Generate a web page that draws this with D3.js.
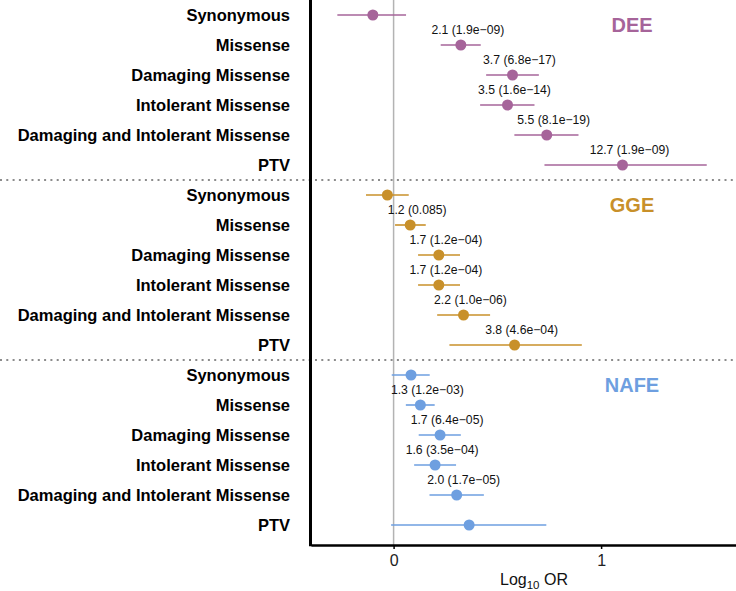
<!DOCTYPE html>
<html>
<head>
<meta charset="utf-8">
<script src="https://cdn.jsdelivr.net/npm/d3@7"></script>
<style>
  body { margin: 0; background: #fff; }
  svg { display: block; font-family: "Liberation Sans", Arial, sans-serif; }
</style>
</head>
<body>
<div id="chart"></div>
<script>
// variant classes, same for every cohort
const categories = ["Synonymous", "Missense", "Damaging Missense", "Intolerant Missense",
  "Damaging and Intolerant Missense", "PTV"];
const groups = ["DEE", "GGE", "NAFE"];
const groupColors = ["#A6649A", "#C8902A", "#6E9FE0"];

// log10 OR and confidence interval, per group
const estDEE = [-0.100, 0.324, 0.573, 0.549, 0.738, 1.103];
const lowDEE = [-0.271, 0.227, 0.446, 0.417, 0.582, 0.727];
const highDEE = [0.060, 0.420, 0.700, 0.679, 0.891, 1.509];
const labDEE = ["", "2.1 (1.9e\u221209)", "3.7 (6.8e\u221217)", "3.5 (1.6e\u221214)", "5.5 (8.1e\u221219)", "12.7 (1.9e\u221209)"];

const estGGE = [-0.030, 0.080, 0.218, 0.218, 0.337, 0.583];
const lowGGE = [-0.133, 0.007, 0.118, 0.118, 0.210, 0.269];
const highGGE = [0.073, 0.155, 0.320, 0.320, 0.465, 0.907];
const labGGE = ["", "1.2 (0.085)", "1.7 (1.2e\u221204)", "1.7 (1.2e\u221204)", "2.2 (1.0e\u221206)", "3.8 (4.6e\u221204)"];

const estNAFE = [0.084, 0.129, 0.224, 0.200, 0.304, 0.364];
const lowNAFE = [-0.009, 0.059, 0.121, 0.099, 0.173, -0.012];
const highNAFE = [0.174, 0.198, 0.324, 0.301, 0.435, 0.736];
const labNAFE = ["", "1.3 (1.2e\u221203)", "1.7 (6.4e\u221205)", "1.6 (3.5e\u221204)", "2.0 (1.7e\u221205)", ""];

const xTicks = [0, 1];

const est = [estDEE, estGGE, estNAFE];
const low = [lowDEE, lowGGE, lowNAFE];
const high = [highDEE, highGGE, highNAFE];
const labs = [labDEE, labGGE, labNAFE];

// flatten into rows
const rows = [];
groups.forEach((g, gi) => {
  categories.forEach((c, ci) => {
    rows.push({ key: g + "|" + c, group: g, gi: gi, cat: c,
      est: est[gi][ci], lo: low[gi][ci], hi: high[gi][ci], label: labs[gi][ci] });
  });
});

const width = 736, height = 591;
const svg = d3.select("#chart").append("svg")
  .attr("width", width).attr("height", height);

const x = d3.scaleLinear().domain([-0.398, 1.65]).range([311, 736]);
const y = d3.scaleBand().domain(rows.map(d => d.key)).range([0, 540]);
const yc = k => y(k) + y.bandwidth() / 2;
const axisY = 545;

// zero reference line
svg.append("line")
  .attr("x1", x(0)).attr("x2", x(0))
  .attr("y1", 0).attr("y2", axisY)
  .attr("stroke", "#b3b3b3").attr("stroke-width", 1.5);

// group separators (dotted, full width)
[1, 2].forEach(i => {
  const yy = y(rows[i * categories.length].key);
  svg.append("line")
    .attr("x1", 0).attr("x2", width)
    .attr("y1", yy).attr("y2", yy)
    .attr("stroke", "#8c8c8c").attr("stroke-width", 2)
    .attr("stroke-dasharray", "2,4.3");
});

// confidence intervals
svg.selectAll("line.ci").data(rows).join("line")
  .attr("class", "ci")
  .attr("x1", d => x(d.lo)).attr("x2", d => x(d.hi))
  .attr("y1", d => yc(d.key)).attr("y2", d => yc(d.key))
  .attr("stroke", d => groupColors[d.gi]).attr("stroke-width", 1.6);

// points
svg.selectAll("circle.pt").data(rows).join("circle")
  .attr("class", "pt")
  .attr("cx", d => x(d.est)).attr("cy", d => yc(d.key))
  .attr("r", 5.5)
  .attr("fill", d => groupColors[d.gi]);

// OR (p) labels
svg.selectAll("text.lab").data(rows.filter(d => d.label)).join("text")
  .attr("class", "lab")
  .attr("x", d => x(d.est) + 7)
  .attr("y", d => yc(d.key) - 15)
  .attr("dy", "0.35em")
  .attr("text-anchor", "middle")
  .attr("font-size", 12.2)
  .attr("fill", "#111")
  .text(d => d.label);

// group names
groups.forEach((g, gi) => {
  svg.append("text")
    .attr("x", 632)
    .attr("y", yc(rows[gi * categories.length].key) + 10)
    .attr("dy", "0.35em")
    .attr("text-anchor", "middle")
    .attr("font-size", 20)
    .attr("font-weight", "bold")
    .attr("fill", groupColors[gi])
    .text(g);
});

// category labels
svg.selectAll("text.cat").data(rows).join("text")
  .attr("class", "cat")
  .attr("x", 290)
  .attr("y", d => yc(d.key))
  .attr("dy", "0.35em")
  .attr("text-anchor", "end")
  .attr("font-size", 16.5)
  .attr("font-weight", "bold")
  .attr("fill", "#000")
  .text(d => d.cat);

// x axis
const xAxis = svg.append("g")
  .attr("transform", `translate(0,${axisY})`)
  .call(d3.axisBottom(x).tickValues(xTicks).tickFormat(d3.format("d")).tickSize(4).tickSizeOuter(0));
xAxis.select(".domain").attr("stroke", "#000").attr("stroke-width", 2.5);
xAxis.selectAll(".tick line").attr("stroke", "#000").attr("stroke-width", 1.5);
xAxis.selectAll(".tick text")
  .attr("font-size", 16).attr("font-family", "Liberation Sans, Arial, sans-serif")
  .attr("fill", "#222").attr("dy", "0.85em");

// left axis line
svg.append("line")
  .attr("x1", 310.5).attr("x2", 310.5)
  .attr("y1", 0).attr("y2", axisY + 1.25)
  .attr("stroke", "#000").attr("stroke-width", 3);

// x title
const title = svg.append("text")
  .attr("x", 534).attr("y", 585)
  .attr("text-anchor", "middle")
  .attr("font-size", 16)
  .attr("fill", "#111");
title.append("tspan").text("Log");
title.append("tspan").attr("font-size", 11.5).attr("dy", 4).text("10");
title.append("tspan").attr("dy", -4).text(" OR");
</script>
</body>
</html>
